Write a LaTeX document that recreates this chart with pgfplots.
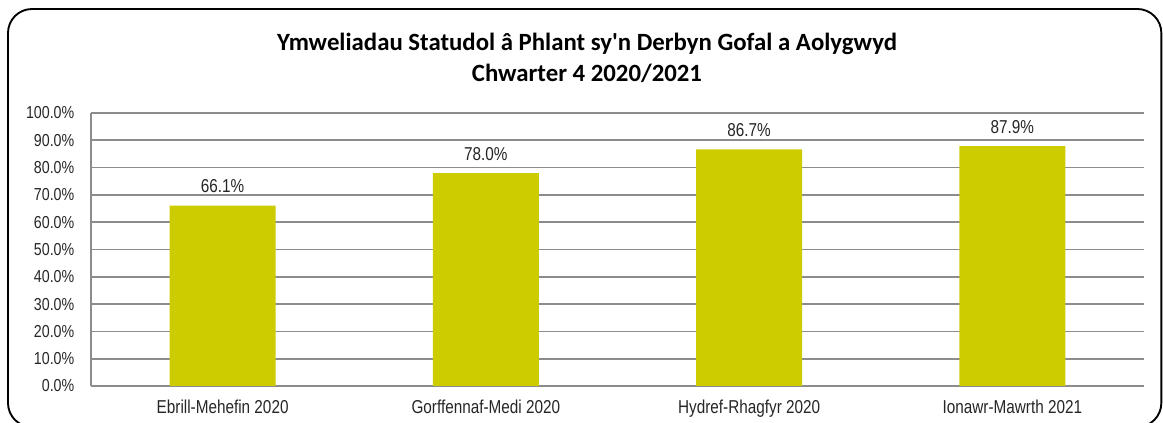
\documentclass[border=0pt]{standalone}
\usepackage{fontspec}
\setmainfont{Liberation Sans}[FakeStretch=0.82]
\newfontfamily\titlefont{Carlito}
\usepackage{pgfplots}
\pgfplotsset{compat=1.18}
\definecolor{barcol}{HTML}{CCCC00}
\definecolor{gridcol}{HTML}{8C8C8C}
\begin{document}
\begin{tikzpicture}
\useasboundingbox (0,0) rectangle (872.25pt,317.25pt);
\begin{scope}
\clip (0,0) rectangle (872.25pt,317.25pt);
\draw[line width=1.4pt, rounded corners=18pt] (6pt,-3pt) rectangle (871pt,310.5pt);
\end{scope}
\node[font=\titlefont\bfseries\fontsize{18.6}{23.25}\selectfont, align=center]
  at (440.25pt,274pt) {Ymweliadau Statudol â Phlant sy'n Derbyn Gofal a Aolygwyd\\Chwarter 4 2020/2021};
\begin{axis}[
    at={(68.25pt,27.75pt)}, anchor=south west,
    scale only axis,
    width=789.75pt, height=204.75pt,
    xmin=-0.5, xmax=3.5,
    ymin=0, ymax=100,
    ytick={0,10,...,100},
    xtick=data,
    xticklabels={Ebrill-Mehefin 2020, Gorffennaf-Medi 2020, Hydref-Rhagfyr 2020, Ionawr-Mawrth 2021},
    yticklabel={\pgfmathprintnumber[fixed,fixed zerofill,precision=1]{\tick}\%},
    /pgf/number format/assume math mode=true,
    ymajorgrids,
    grid style={gridcol, line width=1.3pt},
    axis x line*=bottom, axis y line*=left,
    axis line style={gridcol, line width=1.3pt, -},
    major tick length=0pt,
    yticklabel style={font=\fontsize{13}{15}\selectfont, text=black!85, xshift=-9pt},
    xticklabel style={font=\fontsize{14}{16}\selectfont, text=black!85, yshift=-7pt},
    ybar, bar width=79.5pt,
    nodes near coords={\pgfmathprintnumber[fixed,fixed zerofill,precision=1]{\pgfplotspointmeta}\%},
    nodes near coords style={font=\fontsize{14}{16}\selectfont, text=black!85, anchor=south, yshift=6pt},
    clip=false,
]
\addplot[fill=barcol, draw=none] coordinates {(0,66.1) (1,78.0) (2,86.7) (3,87.9)};
\end{axis}
\end{tikzpicture}
\end{document}
